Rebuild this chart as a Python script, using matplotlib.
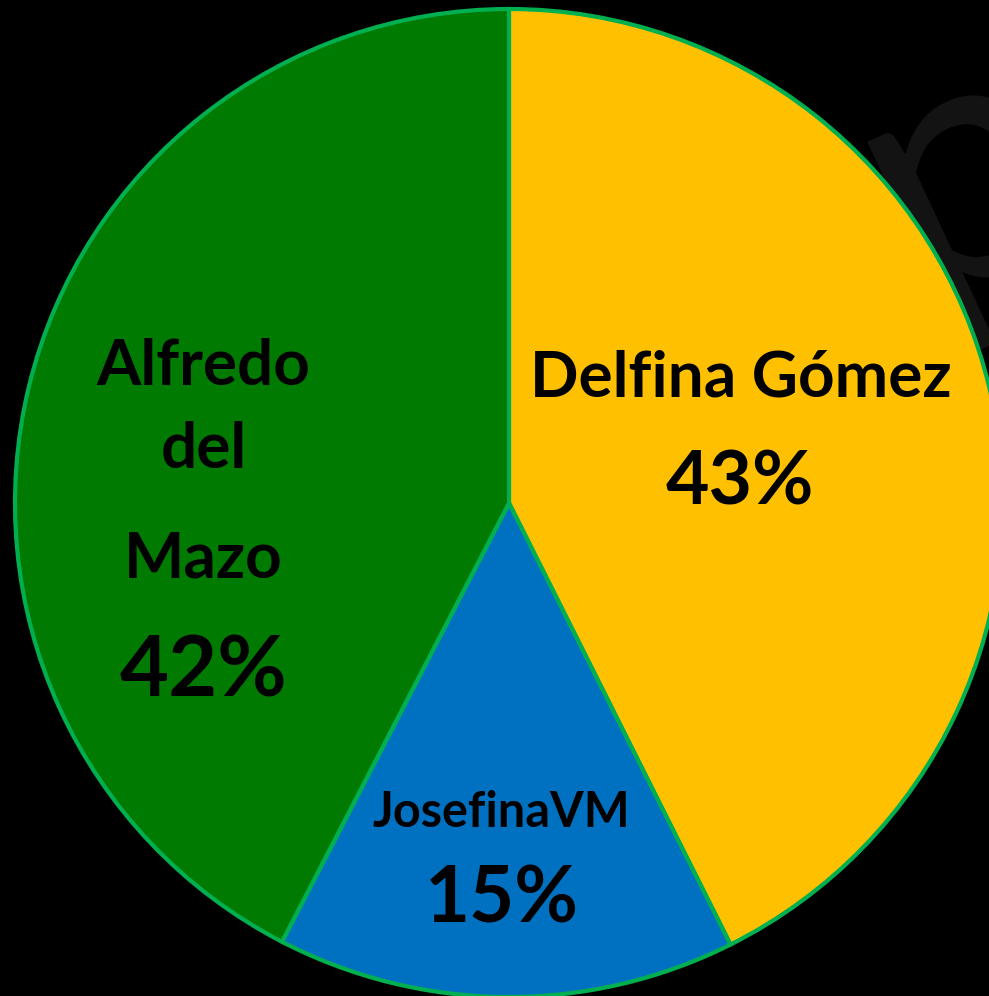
import matplotlib.pyplot as plt

# votes share, clockwise from 12 o'clock
candidates = ['Delfina Gómez', 'JosefinaVM', 'Alfredo\ndel\nMazo']
shares = [42.6, 15.0, 42.4]
colors = ['#FFC000', '#0070C0', '#007A00']

plt.rcParams['font.family'] = ['Lato', 'DejaVu Sans']

fig = plt.figure(figsize=(9.89, 9.96), dpi=100, facecolor='black')
ax = fig.add_axes([0, 0, 1, 1])
ax.set_facecolor('black')

# faint watermark behind the pie
ax.text(0.92, 0.67, 'p', fontsize=250, color='#141414', rotation=25,
        ha='center', va='center', zorder=0)

ax.pie(shares, colors=colors, startangle=90, counterclock=False, radius=1,
       wedgeprops=dict(edgecolor='#00B050', linewidth=3))

ax.set_xlim(-509/494, 480/494)
ax.set_ylim(-493/494, 503/494)
ax.set_aspect('auto')
ax.axis('off')

bold = dict(fontweight='bold', color='black', ha='center', va='baseline')
# Delfina
ax.text(0.4696, 0.2146, candidates[0], fontsize=46, **bold)
ax.text(0.4676, -0.004, f'{shares[0]:.0f}%', fontsize=54, **bold)
# Josefina
ax.text(-0.0162, -0.6559, candidates[1], fontsize=35, **bold)
ax.text(-0.0142, -0.8502, f'{shares[1]:.0f}%', fontsize=56, **bold)
# Alfredo
for line, y in zip(candidates[2].split('\n'), [0.2389, 0.0709, -0.1518]):
    ax.text(-0.6184, y, line, fontsize=46, **bold)
ax.text(-0.6184, -0.3927, f'{shares[2]:.0f}%', fontsize=61, **bold)

fig.savefig('out.png', dpi=100, facecolor='black')
